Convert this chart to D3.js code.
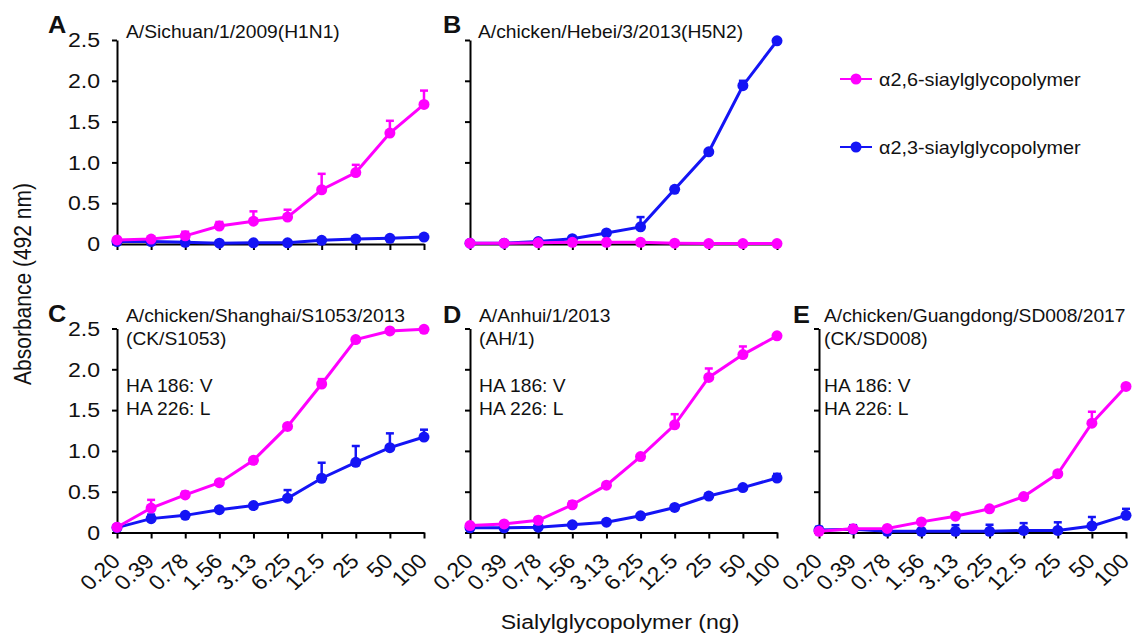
<!DOCTYPE html>
<html>
<head>
<meta charset="utf-8">
<script src="https://cdnjs.cloudflare.com/ajax/libs/d3/7.8.5/d3.min.js"></script>
<style>
    body { margin: 0; background: #fff; }
    text { font-family: "Liberation Sans", Arial, sans-serif; fill: #111; }
    .axis path, .axis line { stroke: #000; stroke-width: 2; }
</style>
</head>
<body>
<div id="graphContainer"></div>
<script>
//x axis categories (ng of sialylglycopolymer) and y ticks
var doses = ["0.20", "0.39", "0.78", "1.56", "3.13", "6.25", "12.5", "25", "50", "100"];
var yTicks = [0, 0.5, 1.0, 1.5, 2.0, 2.5];

var seriesNames = ["α2,6-siaylglycopolymer", "α2,3-siaylglycopolymer"];

var panelLetters = ["A", "B", "C", "D", "E"];
var panelTitles = [
    ["A/Sichuan/1/2009(H1N1)"],
    ["A/chicken/Hebei/3/2013(H5N2)"],
    ["A/chicken/Shanghai/S1053/2013", "(CK/S1053)"],
    ["A/Anhui/1/2013", "(AH/1)"],
    ["A/chicken/Guangdong/SD008/2017", "(CK/SD008)"]
];
var panelNotes = [[], [], ["HA 186: V", "HA 226: L"], ["HA 186: V", "HA 226: L"], ["HA 186: V", "HA 226: L"]];

//absorbance readings, alpha2,6 (magenta) and alpha2,3 (blue), with upper error
var a26 = [0.05, 0.06, 0.10, 0.22, 0.28, 0.33, 0.665, 0.875, 1.36, 1.71];
var a26err = [0.02, 0.01, 0.05, 0.05, 0.12, 0.09, 0.195, 0.095, 0.15, 0.17];
var a23 = [0.03, 0.03, 0.02, 0.01, 0.015, 0.015, 0.045, 0.06, 0.07, 0.085];
var a23err = [0.01, 0.01, 0.01, 0.01, 0.01, 0.01, 0.01, 0.01, 0.01, 0.01];

var b26 = [0.01, 0.01, 0.015, 0.02, 0.02, 0.02, 0.01, 0.005, 0.005, 0.005];
var b26err = [0.005, 0.005, 0.005, 0.005, 0.005, 0.005, 0.005, 0.005, 0.005, 0.005];
var b23 = [0.01, 0.01, 0.03, 0.065, 0.135, 0.21, 0.67, 1.13, 1.94, 2.49];
var b23err = [0.005, 0.005, 0.01, 0.01, 0.01, 0.12, 0.01, 0.01, 0.06, 0.01];

var c26 = [0.065, 0.30, 0.46, 0.61, 0.885, 1.30, 1.82, 2.365, 2.47, 2.49];
var c26err = [0.01, 0.10, 0.04, 0.02, 0.01, 0.02, 0.06, 0.01, 0.01, 0.01];
var c23 = [0.06, 0.17, 0.21, 0.28, 0.33, 0.42, 0.665, 0.86, 1.04, 1.17];
var c23err = [0.01, 0.05, 0.01, 0.01, 0.02, 0.10, 0.19, 0.20, 0.175, 0.09];

var d26 = [0.085, 0.105, 0.15, 0.34, 0.58, 0.93, 1.32, 1.90, 2.18, 2.41];
var d26err = [0.01, 0.01, 0.01, 0.04, 0.01, 0.01, 0.13, 0.11, 0.10, 0.01];
var d23 = [0.057, 0.057, 0.065, 0.094, 0.127, 0.205, 0.307, 0.447, 0.55, 0.668];
var d23err = [0.005, 0.005, 0.005, 0.005, 0.005, 0.005, 0.01, 0.03, 0.01, 0.05];

var e26 = [0.015, 0.045, 0.05, 0.13, 0.20, 0.29, 0.44, 0.72, 1.34, 1.79];
var e26err = [0.005, 0.01, 0.01, 0.01, 0.01, 0.01, 0.01, 0.01, 0.14, 0.01];
var e23 = [0.03, 0.04, 0.015, 0.015, 0.015, 0.015, 0.025, 0.025, 0.08, 0.21];
var e23err = [0.04, 0.05, 0.01, 0.01, 0.075, 0.08, 0.09, 0.10, 0.11, 0.08];

var values26 = [a26, b26, c26, d26, e26],
    errors26 = [a26err, b26err, c26err, d26err, e26err],
    values23 = [a23, b23, c23, d23, e23],
    errors23 = [a23err, b23err, c23err, d23err, e23err];

var color26 = "#ff00ff",
    color23 = "#1414f5";

//set up drawing space
var width = 1132,
    height = 637,
    stretchX = 1.1; //the original figure is slightly stretched sideways

var svg = d3.select("#graphContainer").append("svg")
    .attr("width", width)
    .attr("height", height);

svg.append("rect").attr("width", width).attr("height", height).attr("fill", "#fff");

//panel placement: left edge of y axis, top of plotting area
var panelLeft = [117, 470, 117, 470, 819],
    panelTop = [40, 40, 328.5, 328.5, 328.5],
    panelW = 307,
    panelH = 204,
    letterX = [48, 443, 48, 443, 793],
    letterY = [33, 33, 322, 323, 323],
    titleX = [126, 478, 126, 479, 824],
    titleY = [38, 38, 322, 322, 322];

var x = d3.scalePoint().domain(doses).range([0, panelW]);
var y = d3.scaleLinear().domain([0, 2.5]).range([panelH, 0]);

//stretches a text sideways around its own anchor
function stretch(sel, sx) {
    sel.attr("transform", function () {
        var ax = +d3.select(this).attr("x") || 0;
        return "translate(" + ax + ",0) scale(" + sx + ",1) translate(" + (-ax) + ",0)";
    });
}

function addText(parent, tx, ty, str, size, weight, anchor) {
    return parent.append("text")
        .attr("transform", "translate(" + tx + "," + ty + ") scale(" + stretchX + ",1)")
        .attr("text-anchor", anchor || "start")
        .style("font-size", size + "px")
        .style("font-weight", weight || "normal")
        .text(str);
}

for (var i = 0; i < 5; i++) {
    drawPanel(i);
}

function drawPanel(i) {
    var g = svg.append("g")
        .attr("class", "panel")
        .attr("transform", "translate(" + panelLeft[i] + "," + panelTop[i] + ")");

    var showYLabels = (i === 0 || i === 2),
        showXLabels = (i >= 2);

    //y axis
    var yAxis = g.append("g").attr("class", "axis")
        .call(d3.axisLeft(y)
            .tickValues(yTicks)
            .tickSize(5)
            .tickSizeOuter(0)
            .tickPadding(12)
            .tickFormat(function (d) {
                if (!showYLabels) return "";
                return d === 0 ? "0" : d.toFixed(1);
            }));
    yAxis.selectAll("text").style("font-size", "21px").style("font-family", null).attr("fill", "#111");
    stretch(yAxis.selectAll("text"), stretchX);

    //x axis, rotated dose labels only on the bottom row
    var xAxis = g.append("g").attr("class", "axis")
        .attr("transform", "translate(0," + panelH + ")")
        .call(d3.axisBottom(x)
            .tickSize(6)
            .tickSizeOuter(0)
            .tickFormat(function (d) { return showXLabels ? d : ""; }));
    xAxis.selectAll("text")
        .style("font-size", "21px")
        .style("font-family", null)
        .attr("fill", "#111")
        .attr("text-anchor", "end")
        .attr("x", 0)
        .attr("y", 0)
        .attr("dy", 0)
        .attr("transform", "translate(4,30) scale(" + stretchX + ",1) rotate(-45)");

    //series: blue first so magenta sits on top
    drawSeries(g, values23[i], errors23[i], color23);
    drawSeries(g, values26[i], errors26[i], color26);

    //panel letter and strain names
    addText(svg, letterX[i], letterY[i], panelLetters[i], 23, "bold");
    panelTitles[i].forEach(function (t, k) {
        addText(svg, titleX[i], titleY[i] + k * 23, t, 17.5);
    });
    panelNotes[i].forEach(function (t, k) {
        addText(svg, titleX[i], titleY[i] + 70 + k * 23, t, 17.5);
    });
}

function drawSeries(g, vals, errs, col) {
    var pts = vals.map(function (v, k) {
        return {dose: doses[k], v: v, e: errs[k]};
    });

    var bars = g.append("g").attr("stroke", col).attr("stroke-width", 2.5);
    bars.selectAll(".stem").data(pts).enter().append("line")
        .attr("x1", function (d) { return x(d.dose); })
        .attr("x2", function (d) { return x(d.dose); })
        .attr("y1", function (d) { return y(d.v); })
        .attr("y2", function (d) { return y(d.v + d.e); });
    bars.selectAll(".cap").data(pts).enter().append("line")
        .attr("x1", function (d) { return x(d.dose) - 4; })
        .attr("x2", function (d) { return x(d.dose) + 4; })
        .attr("y1", function (d) { return y(d.v + d.e); })
        .attr("y2", function (d) { return y(d.v + d.e); });

    var line = d3.line()
        .x(function (d) { return x(d.dose); })
        .y(function (d) { return y(d.v); });

    g.append("path").datum(pts)
        .attr("d", line)
        .attr("fill", "none")
        .attr("stroke", col)
        .attr("stroke-width", 3);

    g.append("g").selectAll("circle").data(pts).enter().append("circle")
        .attr("cx", function (d) { return x(d.dose); })
        .attr("cy", function (d) { return y(d.v); })
        .attr("r", 5.5)
        .attr("fill", col);
}

//axis titles
addText(svg, 620, 629, "Sialylglycopolymer (ng)", 21, "normal", "middle");
svg.append("text")
    .attr("transform", "translate(31,284) scale(" + stretchX + ",1) rotate(-90)")
    .attr("text-anchor", "middle")
    .style("font-size", "21px")
    .text("Absorbance (492 nm)");

//legend
var legendY = [79, 147],
    legendColors = [color26, color23];
seriesNames.forEach(function (name, k) {
    var lg = svg.append("g").attr("transform", "translate(840," + legendY[k] + ")");
    lg.append("line").attr("x1", 0).attr("x2", 32)
        .attr("stroke", legendColors[k]).attr("stroke-width", 2);
    lg.append("circle").attr("cx", 16).attr("r", 5.5).attr("fill", legendColors[k]);
    addText(lg, 39, 7, name, 18);
});
</script>
</body>
</html>
